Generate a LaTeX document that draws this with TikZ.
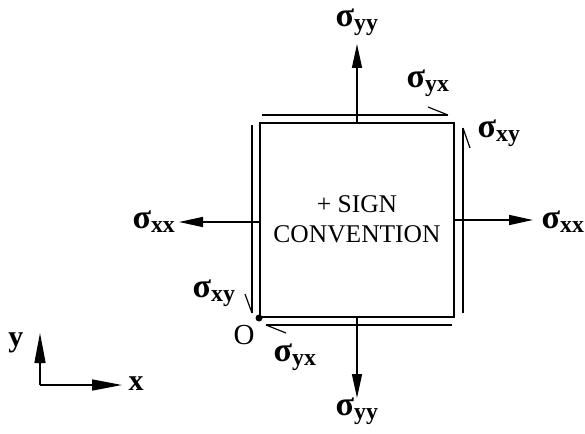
\documentclass[tikz,border=0pt]{standalone}
\usepackage{fontspec}
\setmainfont{Liberation Serif}
\usetikzlibrary{arrows.meta}
\begin{document}
\begin{tikzpicture}[x=1pt,y=-1pt,
  lbl/.style={inner sep=0pt,font=\fontsize{34}{36}\selectfont\bfseries},
  ptxt/.style={inner sep=0pt,font=\fontsize{25.5}{30}\selectfont,align=center},
  normarrow/.style={line width=1.5pt,-{Triangle[length=24pt,width=10pt]}},
  axarrow/.style={line width=1.5pt,-{Triangle[length=30pt,width=11pt]}},
  shear/.style={line width=1.6pt},
  barb/.style={line width=1.2pt}]
\useasboundingbox (0,0) rectangle (585,433);
\fill[white] (0,0) rectangle (585,433);
% square
\node[draw,line width=2pt,minimum width=194pt,minimum height=194pt,inner sep=0pt] (sq) at (357,220) {};
\node[ptxt] (txt) at (357,219) {+ SIGN\\CONVENTION};
% normal stress arrows
\coordinate (tt) at (357,44);
\coordinate (bt) at (357,398);
\coordinate (lt) at (179,222);
\coordinate (rt) at (533,220);
\draw[normarrow] (sq.north) -- (tt);
\draw[normarrow] (sq.south) -- (bt);
\draw[normarrow] (sq.west |- lt) -- (lt);
\draw[normarrow] (sq.east |- rt) -- (rt);
% shear lines
\coordinate (ts) at (262,115); \coordinate (te) at (448,115); \coordinate (tb) at (428,107);
\coordinate (rs) at (463,313); \coordinate (re) at (463,128); \coordinate (rb) at (470,148);
\coordinate (ls) at (252,125); \coordinate (le) at (252,313); \coordinate (lb) at (245,294);
\coordinate (bs) at (452,325); \coordinate (be) at (266,325); \coordinate (bb) at (286,333);
\draw[shear] (ts) -- (te); \draw[barb] (te) -- (tb);
\draw[shear] (rs) -- (re); \draw[barb] (re) -- (rb);
\draw[shear] (ls) -- (le); \draw[barb] (le) -- (lb);
\draw[shear] (bs) -- (be); \draw[barb] (be) -- (bb);
% origin dot
\fill (sq.south west) circle (3.5pt);
\node[inner sep=0pt,font=\fontsize{29}{31}\selectfont] (O) at (244,335) {O};
% labels
\node[lbl] (syyt) at (357,22) {σ\textsubscript{yy}};
\node[lbl] (syyb) at (357,411) {σ\textsubscript{yy}};
\node[lbl] (sxxl) at (154,222) {σ\textsubscript{xx}};
\node[lbl] (sxxr) at (563,222) {σ\textsubscript{xx}};
\node[lbl] (syxt) at (428,83) {σ\textsubscript{yx}};
\node[lbl] (syxb) at (295,357) {σ\textsubscript{yx}};
\node[lbl] (sxyr) at (499,133) {σ\textsubscript{xy}};
\node[lbl] (sxyl) at (214,293) {σ\textsubscript{xy}};
% axes
\coordinate (ax0) at (40,385);
\coordinate (axx) at (122,385);
\coordinate (axy) at (40,333);
\draw[axarrow] (ax0) -- (axx);
\draw[axarrow] (ax0) -- (axy);
\node[inner sep=0pt,font=\fontsize{30}{32}\selectfont\bfseries] (xl) at (136,384) {x};
\node[inner sep=0pt,font=\fontsize{30}{32}\selectfont\bfseries] (yl) at (16,343) {y};
\end{tikzpicture}
\end{document}
